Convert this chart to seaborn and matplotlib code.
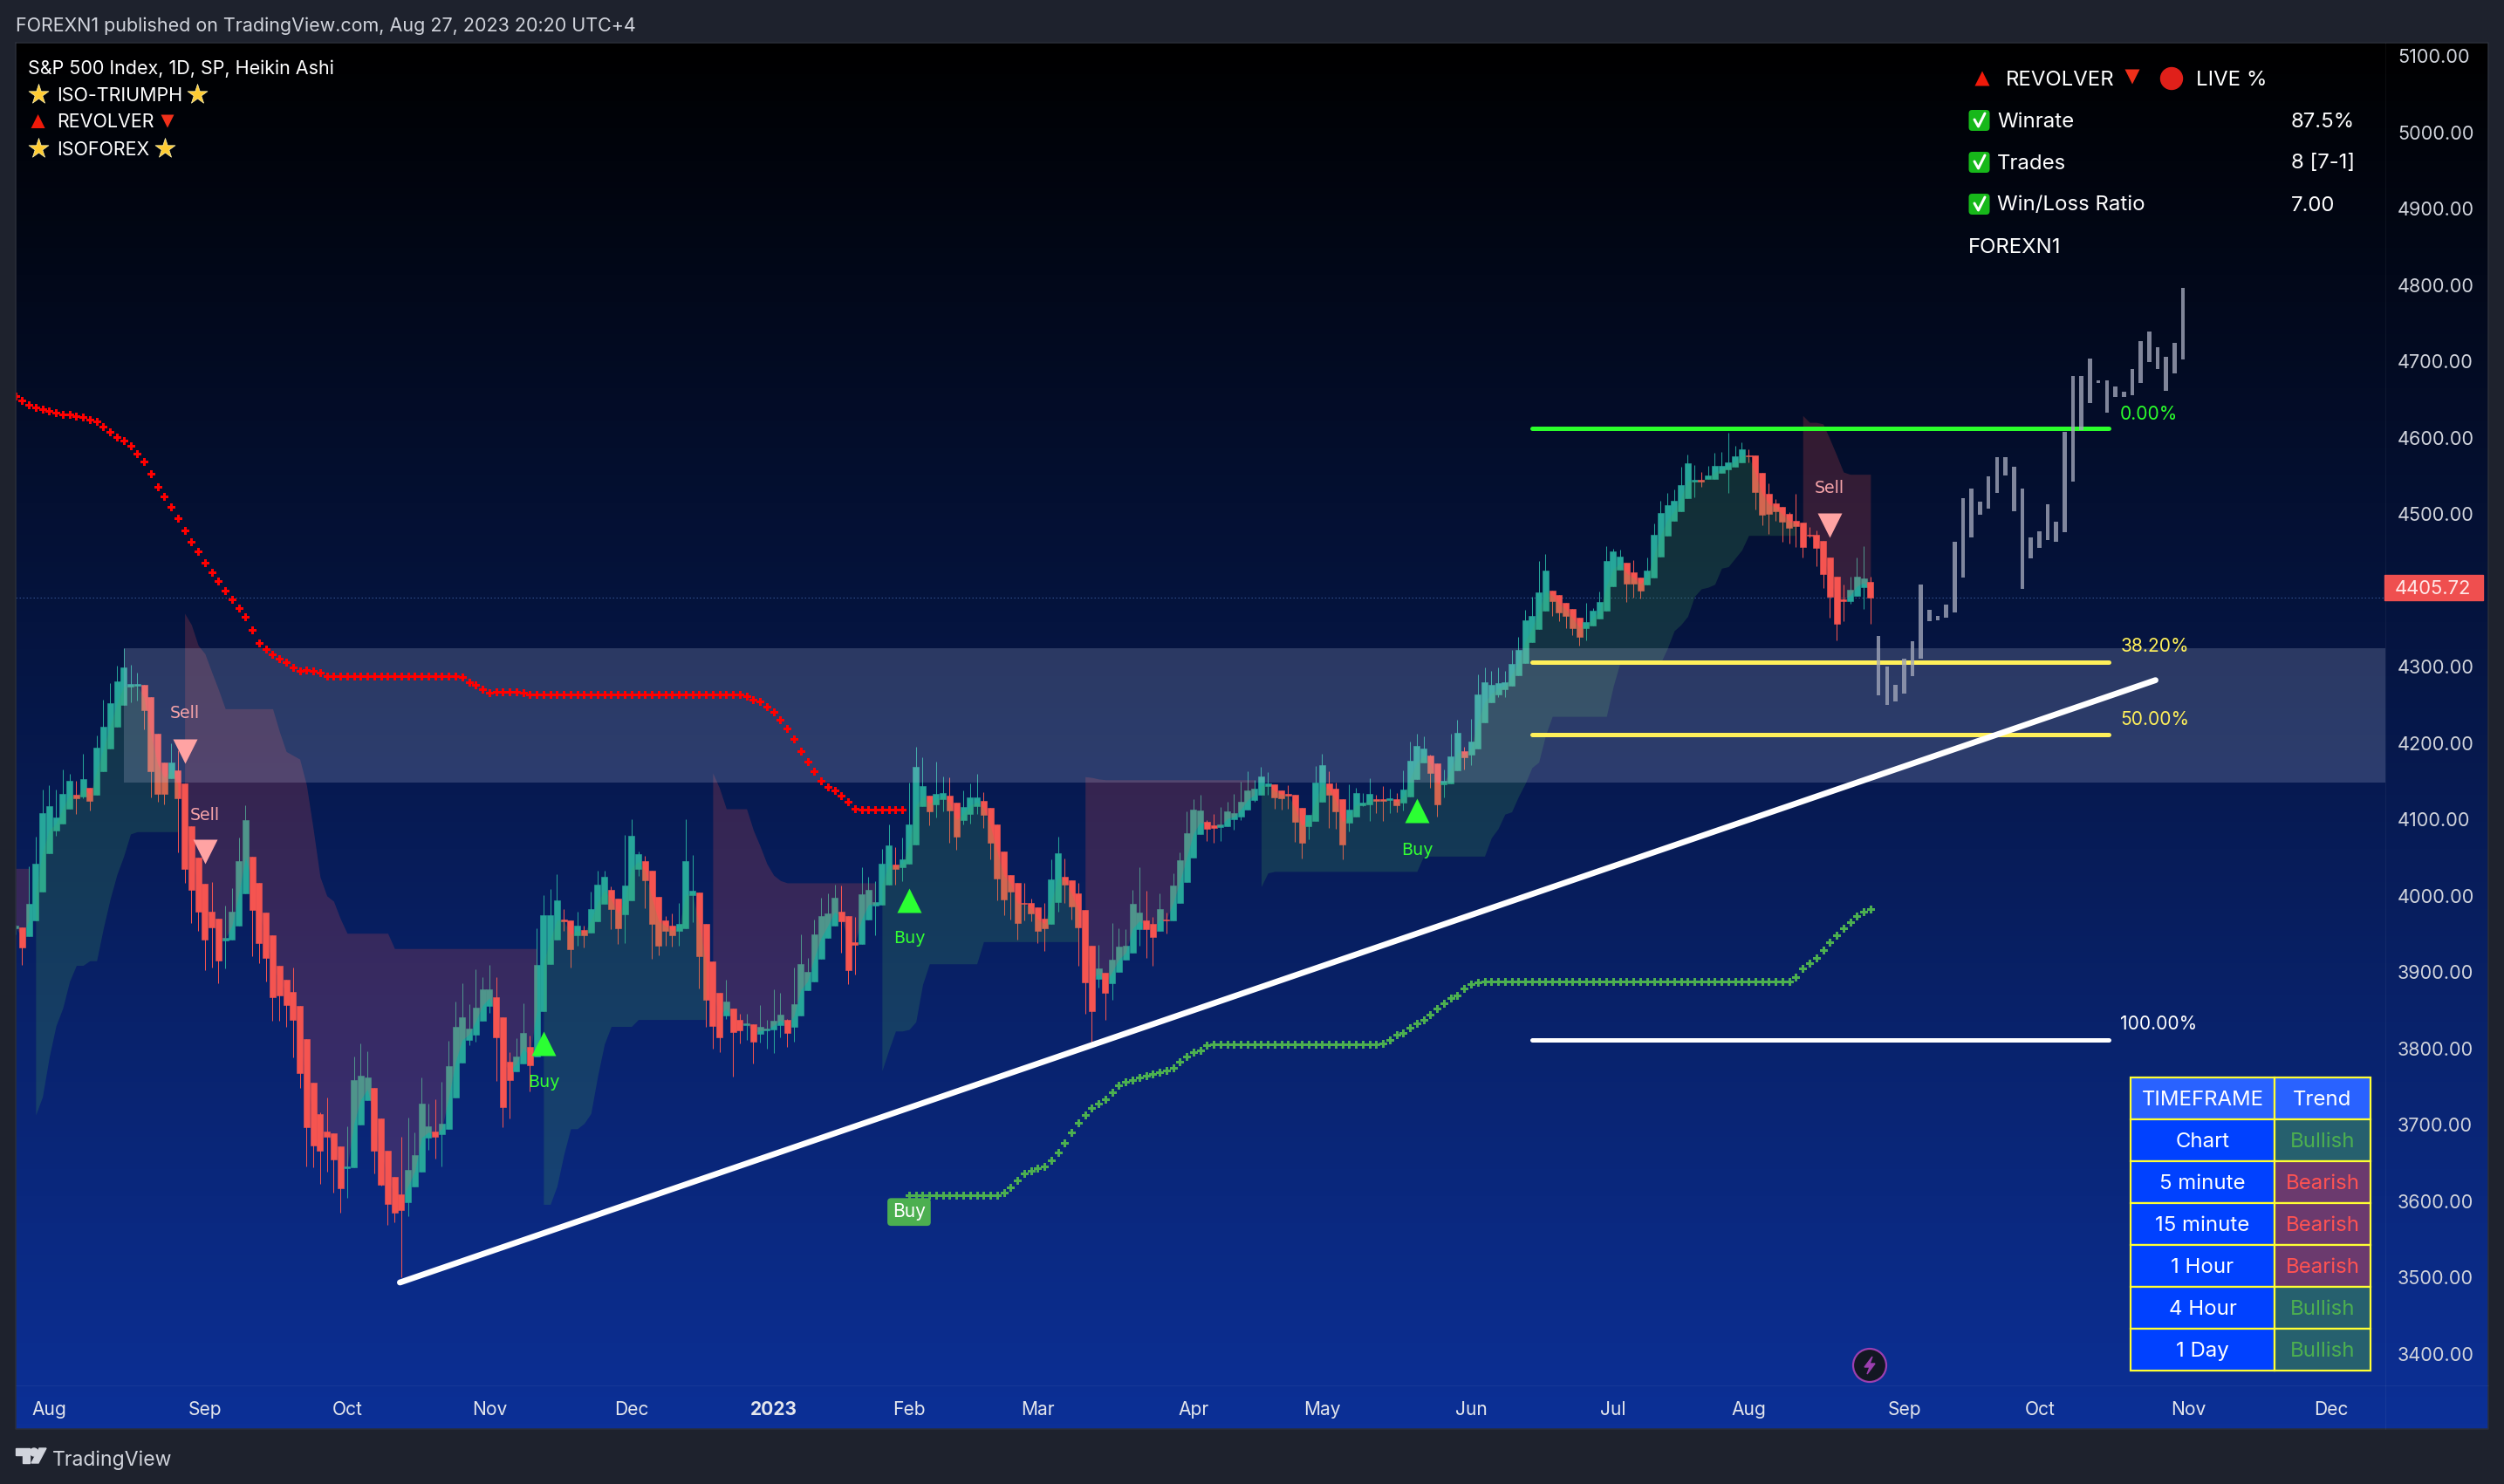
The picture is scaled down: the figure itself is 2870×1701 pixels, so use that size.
import numpy as np
import matplotlib
matplotlib.use("Agg")
import matplotlib.pyplot as plt
from matplotlib.colors import LinearSegmentedColormap
from matplotlib.patches import Rectangle, Circle, Polygon, FancyBboxPatch
import seaborn as sns

# heikin ashi candles, one entry per daily bar
ha_open = [
    3957,3959,3947,3968,4005,4056,4086,4095,4114,4132, 4130,4141,4132,4163,4193,4222,4250,4274,4275,4276,
    4260,4212,4175,4154,4164,4147,4091,4050,4016,3979, 3970,3942,3943,3961,4003,4051,4017,3978,3948,3908,
    3890,3874,3856,3813,3755,3714,3691,3689,3672,3643, 3645,3701,3732,3748,3708,3666,3632,3609,3599,3619,
    3639,3683,3691,3688,3695,3736,3782,3811,3818,3836, 3856,3867,3841,3783,3770,3780,3802,3790,3849,3911,
    3943,3969,3968,3948,3955,3952,3967,3990,4008,3996, 3976,3994,4035,4045,4033,3999,3968,3961,3954,3957,
    4001,4004,3963,3914,3873,3843,3852,3838,3831,3832, 3819,3824,3825,3831,3838,3828,3843,3876,3888,3917,
    3945,3961,3979,3973,3939,3937,3969,3987,3988,4015, 4041,4037,4042,4067,4117,4131,4120,4127,4131,4122,
    4099,4107,4117,4124,4115,4093,4058,4027,4017,3991, 3991,3985,3970,3963,3992,4025,4020,4003,3981,3935,
    3891,3899,3885,3900,3916,3925,3956,3968,3963,3954, 3969,3968,3991,4018,4050,4081,4097,4092,4090,4091,
    4100,4104,4113,4125,4132,4144,4146,4138,4133,4132, 4115,4091,4098,4123,4147,4140,4127,4096,4104,4119,
    4120,4127,4127,4125,4127,4122,4130,4153,4175,4184, 4173,4146,4147,4164,4189,4185,4193,4227,4253,4264,
    4271,4275,4289,4305,4332,4349,4373,4400,4394,4384, 4376,4364,4351,4354,4363,4373,4405,4427,4436,4424,
    4417,4408,4417,4444,4472,4491,4504,4521,4542,4545, 4546,4546,4554,4558,4562,4568,4577,4577,4554,4526,
    4514,4509,4500,4491,4489,4473,4473,4465,4443,4418, 4388,4386,4393,4404,4411,
]
ha_close = [
    3961,3932,3990,4042,4108,4117,4103,4134,4151,4128, 4153,4124,4194,4222,4252,4281,4299,4277,4277,4243,
    4163,4134,4134,4175,4128,4035,4008,3979,3943,3959, 3915,3945,3979,4046,4099,3981,3938,3919,3867,3870,
    3857,3838,3768,3697,3673,3666,3685,3655,3617,3646, 3759,3765,3762,3666,3622,3596,3585,3589,3641,3660,
    3728,3698,3684,3702,3777,3829,3841,3826,3854,3877, 3877,3815,3723,3759,3790,3821,3778,3909,3975,3975,
    3994,3967,3930,3961,3948,3983,4015,4025,3983,3957, 4013,4079,4055,4020,3963,3935,3954,3948,3963,4045,
    4007,3921,3864,3830,3815,3862,3822,3824,3833,3809, 3828,3826,3836,3844,3820,3858,3911,3900,3950,3973,
    3977,3997,3967,3903,3936,4002,4008,3992,4042,4066, 4035,4048,4093,4169,4144,4111,4133,4135,4112,4077,
    4116,4129,4129,4106,4069,4023,3995,4005,3964,3989, 3977,3954,3957,4021,4056,4015,3986,3959,3887,3849,
    3905,3873,3916,3934,3935,3989,3978,3956,3946,3983, 3968,4013,4047,4082,4113,4112,4088,4089,4093,4111,
    4108,4123,4138,4140,4156,4147,4129,4128,4131,4097, 4069,4106,4148,4171,4132,4111,4067,4113,4135,4122,
    4133,4124,4124,4128,4119,4139,4177,4196,4193,4161, 4120,4151,4183,4213,4181,4202,4264,4280,4276,4279,
    4280,4304,4322,4361,4367,4397,4426,4386,4371,4367, 4351,4339,4358,4373,4385,4438,4451,4444,4409,4409,
    4400,4426,4473,4501,4512,4517,4538,4566,4545,4542, 4550,4563,4563,4568,4576,4585,4576,4529,4499,4500,
    4504,4490,4482,4484,4457,4472,4456,4421,4392,4356, 4386,4401,4418,4416,4390,
]
ha_high = [
    3962,3959,4039,4078,4139,4145,4139,4166,4160,4151, 4186,4141,4210,4257,4279,4301,4324,4302,4292,4276,
    4260,4212,4175,4200,4191,4147,4091,4050,4016,4018, 3970,3987,4010,4076,4119,4051,4017,3978,3948,3908,
    3890,3906,3856,3813,3755,3716,3736,3689,3672,3698, 3790,3807,3797,3748,3708,3666,3632,3684,3710,3690,
    3762,3728,3734,3757,3810,3862,3885,3858,3904,3894, 3910,3894,3841,3795,3814,3859,3817,3957,4001,4009,
    4028,3983,3968,3979,3961,4006,4033,4033,4012,3996, 4080,4100,4058,4052,4033,3999,3973,3977,3991,4100,
    4053,4004,3963,3914,3873,3890,3852,3846,3846,3832, 3857,3838,3877,3873,3839,3906,3950,3919,3969,3997,
    4003,4015,4014,3973,3972,4038,4025,4019,4061,4093, 4064,4076,4148,4195,4181,4131,4176,4156,4155,4122,
    4138,4147,4160,4136,4115,4093,4058,4027,4017,4017, 3996,3985,3991,4048,4077,4049,4020,4017,3981,3935,
    3936,3899,3964,3958,3956,4008,4038,4007,3972,4003, 3978,4029,4057,4111,4127,4132,4099,4107,4116,4123,
    4133,4149,4163,4152,4169,4162,4146,4138,4145,4132, 4115,4106,4170,4186,4163,4148,4127,4146,4141,4135,
    4154,4132,4144,4140,4135,4164,4202,4212,4209,4185, 4173,4165,4212,4231,4195,4232,4290,4299,4295,4299,
    4294,4322,4339,4375,4392,4438,4448,4400,4394,4384, 4376,4364,4384,4377,4398,4458,4455,4453,4436,4440,
    4417,4443,4488,4517,4528,4532,4562,4578,4564,4555, 4563,4580,4581,4606,4589,4594,4585,4577,4554,4540,
    4520,4509,4502,4526,4489,4483,4478,4465,4443,4418, 4408,4418,4443,4458,4418,
]
ha_low = [
    3950,3910,3947,3968,4005,4056,4079,4095,4114,4107, 4128,4112,4132,4163,4193,4222,4250,4253,4256,4218,
    4129,4123,4120,4154,4057,4017,3964,3954,3903,3906, 3885,3905,3943,3961,4003,3921,3912,3888,3837,3837,
    3828,3789,3748,3646,3645,3623,3639,3611,3585,3605, 3645,3701,3732,3637,3621,3569,3573,3501,3580,3619,
    3639,3667,3656,3646,3695,3736,3782,3804,3809,3836, 3847,3758,3697,3709,3770,3780,3744,3790,3849,3911,
    3943,3954,3906,3935,3932,3952,3967,3990,3956,3937, 3938,3994,4026,3984,3918,3922,3935,3933,3935,3957,
    3966,3879,3828,3800,3795,3839,3763,3807,3811,3780, 3808,3800,3794,3815,3802,3809,3843,3876,3888,3917,
    3945,3961,3926,3884,3897,3937,3969,3948,3988,4015, 4015,4019,4042,4067,4117,4092,4103,4111,4070,4060,
    4093,4095,4107,4089,4048,3994,3975,3969,3943,3968, 3967,3938,3928,3963,3979,3991,3969,3908,3846,3808,
    3880,3838,3864,3900,3916,3925,3935,3919,3908,3954, 3951,3968,3991,4018,4050,4081,4072,4069,4072,4091,
    4087,4099,4113,4123,4132,4132,4114,4113,4114,4071, 4049,4074,4098,4123,4089,4088,4048,4084,4104,4117,
    4098,4108,4098,4108,4109,4112,4130,4153,4175,4141, 4104,4129,4147,4164,4165,4171,4193,4227,4253,4260,
    4260,4275,4289,4305,4332,4349,4373,4367,4360,4351, 4341,4328,4335,4354,4363,4373,4405,4427,4385,4391,
    4389,4408,4417,4444,4472,4491,4504,4521,4522,4536, 4546,4546,4554,4528,4562,4568,4568,4506,4485,4474,
    4491,4464,4461,4457,4443,4469,4432,4403,4364,4335, 4360,4383,4393,4376,4356,
]

# revolver dots, red from the first bar, green from bar 132
red_dots = [
    4654,4649,4643,4639,4637,4635,4633,4630,4630,4628,4627,4624,4621,4615,4608,4601,4596,4589,4579,4569,4553,
    4536,4523,4509,4494,4478,4464,4451,4436,4424,4412,
    4400,4388,4377,4365,4348,4331,4323,4316,4310,4306,4299,4295,4296,4295,4292,
    4288,4288,4288,4288,4288,4288,4288,4288,4288,4288,4288,4288,4288,4288,4288,4288,4288,4288,4288,4288,
    4286,4280,4276,4270,4266,4267,4267,4267,4267,4266,
    4264,4264,4264,4264,4264,4264,4264,4264,4264,4264,4264,4264,4264,4264,4264,4264,
    4264,4264,4264,4264,4264,4264,4264,4264,4264,4264,4264,4264,4264,4264,4264,4264,
    4261,
    4257,4255,4248,4241,4231,4219,4205,4190,4176,4163,4151,4143,4138,4131,4123,4114,
    4113,4113,4113,4113,4113,4113,4113,
]
green_dots = [
    3608,3608,3608,3608,3608,3608,3608,3608,3608,3608,3608,3608,3608,3608,
    3611,3618,3627,3636,3640,3643,3646,3654,3664,3676,3690,3703,3713,3722,3728,3734,3743,3752,3756,
    3759,3762,3765,3767,3769,3771,3775,3783,3790,3795,3798,3804,
    3806,3806,3806,3806,3806,3806,3806,3806,3806,3806,3806,3806,3806,3806,3806,3806,3806,3806,3806,3806,3806,3806,3806,3806,3806,
    3807,3811,3818,3821,3827,3833,3838,3845,3853,3859,3866,3870,3879,3884,3887,
    3888,3888,3888,3888,3888,3888,3888,3888,3888,3888,3888,3888,3888,3888,3888,3888,3888,3888,3888,3888,3888,3888,3888,
    3888,3888,3888,3888,3888,3888,3888,3888,3888,3888,3888,3888,3888,3888,3888,3888,3888,3888,3888,3888,3888,3888,3888,
    3894,3905,3912,3919,3929,3939,3948,3958,3966,3973,3979,3983,
]
green_dots_start = 132

# trailing stop edge of the clouds: (first bar, stop levels)
pink_a = (0, [4036,4036,4036])
teal_a = (3, [3713,3737,3789,3830,3853,3888,3909,3909,3915,3915,3958,3996,4028,4052,4081,
              4084,4084,4084,4084,4084,4084,4084])
pink_b = (25, [4370,4355,4328,4317,4293,4270,4245,4245,4245,4245,4245,4245,4245,4245,4215,4189,4184,4179,
               4145,4087,4025,4000,3993,3970,3951,3951,3951,3951,3951,3951,3951,
               3931,3931,3931,3931,3931,3931,3931,3931,3931,3931,3931,3931,3931,3931,3931,3931,3931,3931,3931,3931,3931,3931])
teal_b = (78, [3596,3596,3620,3661,3695,3695,3702,3715,3764,3806,3829,3829,3829,3829,
               3838,3838,3838,3838,3838,3838,3838,3838,3838,3838,3838])
pink_c = (103, [4161,4141,4114,4114,4114,4114,4086,4065,4042,4027,4020,
                4017,4017,4017,4017,4017,4017,4017,4017,4017,4017,4017,4017,4017,4017])
teal_c = (128, [3771,3798,3823,3823,3825,3835,3884,3911,3911,3911,3911,3911,3911,3911,3911,
                3940,3940,3940,3940,3940,3940,3940,3940,3940,3940,3940,3940,3940,3940,3940])
pink_d = (158, [4156,4155,4153,4152,4152,4152,4152,4152,4152,4152,4152,4152,4152,4152,4152,4152,
                4152,4152,4152,4152,4152,4152,4152,4152,4152,4152])
teal_d = (184, [4012,4030,4032,4032,4032,4032,4032,4032,4032,4032,4032,4032,4032,4032,4032,4032,
                4032,4032,4032,4032,4032,4032,4032,4032,
                4052,4052,4052,4052,4052,4052,4052,4052,4052,4052,
                4076,4088,4107,4110,4130,4147,4168,4175,4210,
                4235,4235,4235,4235,4235,4235,4235,4235,4235,4274,
                4305,4305,4305,4305,4305,4305,4305,
                4324,4347,4355,4366,4392,4402,4404,4408,4429,4431,4442,4453,
                4472,4472,4472,4472,4472,4472,4472,4472])
pink_e = (264, [4629,4620,4620,4618,4598,4577,4555,4552,4552,4552,4552])

# projected grey bars after the last candle
ghost_top = [4340,4300,4276,4311,4333,4408,4375,4367,4381,4464,4521,4533,4516,4549,4574,4574,4562,4533,4469,
             4477,4513,4490,4608,4681,4681,4704,4675,4675,4667,4660,4690,4726,4739,4718,4706,4724,4796]
ghost_bot = [4263,4250,4255,4265,4288,4310,4360,4361,4364,4371,4417,4469,4499,4507,4528,4551,4504,4402,4442,
             4456,4466,4464,4476,4542,4610,4645,4672,4633,4653,4653,4656,4672,4699,4690,4661,4684,4702]

# signals: bar, marker level, text level
sell_bar = [25, 28, 268]
sell_mark = [4189, 4058, 4485]
sell_text = [4239, 4106, 4534]
buy_bar = [78, 132, 207]
buy_mark = [3807, 3994, 4112]
buy_text = [3756, 3944, 4060]

zone_low, zone_high = 4148, 4324
zone_start = 16
last_price = 4405.72
ha_last_close = 4391
fib_levels = [4611.8, 4305.6, 4210.8, 3811]
fib_labels = ["0.00%", "38.20%", "50.00%", "100.00%"]
fib_label_y = [4630, 4326, 4231, 3832]
fib_colors = ["#2bff2b", "#fff05a", "#fff05a", "#ffffff"]
fib_start, fib_end = 224, 309.2
trend_x = [56.8, 316.1]
trend_y = [3493.7, 4282.4]

price_ticks = [5100,5000,4900,4800,4700,4600,4500,4400,4300,4200,4100,4000,3900,3800,3700,3600,3500,3400]
month_ticks = [5,28,49,70,91,112,132,151,174,193,215,236,256,279,299,321,342]
month_labels = ["Aug","Sep","Oct","Nov","Dec","2023","Feb","Mar","Apr","May","Jun","Jul","Aug","Sep","Oct","Nov","Dec"]

tf_names = ["Chart","5 minute","15 minute","1 Hour","4 Hour","1 Day"]
tf_trend = ["Bullish","Bearish","Bearish","Bearish","Bullish","Bullish"]
stat_names = ["Winrate","Trades","Win/Loss Ratio"]
stat_values = ["87.5%","8 [7-1]","7.00"]

W, H = 2870, 1701
PT = 0.72  # px to pt at dpi 100
UP, DOWN = "#26a69a", "#f55450"
TXT = "#d1d4dc"

sns.set_theme(style="dark", rc={"axes.grid": False})
plt.rcParams["font.family"] = ["Inter", "DejaVu Sans"]

fig = plt.figure(figsize=(W / 100, H / 100), dpi=100, facecolor="#1e222d")


def box(x0, y0, x1, y1):
    return [x0 / W, 1 - y1 / H, (x1 - x0) / W, (y1 - y0) / H]


# background gradient over the whole frame
bg = fig.add_axes(box(18, 49, 2852, 1638))
cmap = LinearSegmentedColormap.from_list("tv", ["#000000", "#0c3097"])
bg.imshow(np.linspace(0, 1, 512).reshape(-1, 1), aspect="auto", cmap=cmap)
bg.axis("off")

ax = fig.add_axes(box(18, 49, 2734, 1588))
ax.patch.set_alpha(0)
ax.set_xlim(0.05, 350.05)
ax.set_ylim(3358.9, 5117.1)
sns.despine(ax=ax, left=True, bottom=True, right=True, top=True)

# candles
bars = np.arange(len(ha_open))
o, c, hi, lo = map(np.array, (ha_open, ha_close, ha_high, ha_low))
colors = np.where(c >= o, UP, DOWN)
ax.vlines(bars, lo, hi, colors=colors, linewidth=1 * PT, zorder=2)
ax.bar(bars, np.abs(c - o), bottom=np.minimum(o, c), width=0.9, color=colors,
       edgecolor=colors, linewidth=0.4, zorder=3)

# clouds sit on top of the candles
mid = (o + c) / 2
for start, stops in [teal_a, teal_b, teal_c, teal_d]:
    idx = np.arange(start, start + len(stops))
    ax.fill_between(idx, stops, mid[idx], color="#4caf50", alpha=0.2, linewidth=0, zorder=4)
for start, stops in [pink_a, pink_b, pink_c, pink_d, pink_e]:
    idx = np.arange(start, start + len(stops))
    ax.fill_between(idx, stops, mid[idx], color="#f55450", alpha=0.2, linewidth=0, zorder=4)

# supply zone
ax.fill_between([zone_start, 350.05], zone_low, zone_high, color="#c8cdeb", alpha=0.2, linewidth=0, zorder=4.5)

# hairline at the heikin ashi close
ax.axhline(ha_last_close, color="#34548f", linewidth=1 * PT, linestyle=(0, (1.5, 2.5)), zorder=1)

# fib levels and trend line
for lvl, col, lab, ly in zip(fib_levels, fib_colors, fib_labels, fib_label_y):
    sns.lineplot(x=[fib_start, fib_end], y=[lvl, lvl], color=col, linewidth=5 * PT,
                 solid_capstyle="round", ax=ax, zorder=5, errorbar=None)
    ax.text(310.9, ly, lab, color=col, fontsize=21 * PT, va="center", ha="left", zorder=8)
sns.lineplot(x=trend_x, y=trend_y, color="white", linewidth=6.8 * PT, solid_capstyle="round",
             ax=ax, zorder=5, errorbar=None)

# dots
dot_s = (9 * PT) ** 2
sns.scatterplot(x=np.arange(len(red_dots)), y=red_dots, marker="P", s=dot_s, color="#ff0000",
                linewidth=0, ax=ax, zorder=6)
sns.scatterplot(x=green_dots_start + np.arange(len(green_dots)), y=green_dots, marker="P", s=dot_s,
                color="#4caf50", linewidth=0, ax=ax, zorder=6)

# grey projection
ghost_x = 275.2 + 1.249 * np.arange(len(ghost_top))
ax.bar(ghost_x, np.array(ghost_top) - np.array(ghost_bot), bottom=ghost_bot, width=0.6,
       color="#a0a5b8", alpha=0.8, linewidth=0, zorder=6)

# buy and sell marks
tri_s = (28 * PT) ** 2
sns.scatterplot(x=sell_bar, y=sell_mark, marker="v", s=tri_s, color="#ffa3a3", linewidth=0, ax=ax, zorder=7)
sns.scatterplot(x=buy_bar, y=buy_mark, marker="^", s=tri_s, color="#2bff33", linewidth=0, ax=ax, zorder=7)
for b, y in zip(sell_bar, sell_text):
    ax.text(b, y, "Sell", color="#f5a3a8", family="DejaVu Sans", fontsize=19 * PT, ha="center", va="center", zorder=8)
for b, y in zip(buy_bar, buy_text):
    ax.text(b, y, "Buy", color="#33ff33", family="DejaVu Sans", fontsize=19 * PT, ha="center", va="center", zorder=8)
ax.text(green_dots_start, 3586, "Buy", color="white", fontsize=21 * PT, ha="center", va="center", zorder=8,
        bbox=dict(boxstyle="round,pad=0.28,rounding_size=0.2", fc="#4caf50", ec="none"))

# axes labels
ax.yaxis.tick_right()
ax.set_yticks(price_ticks)
ax.set_yticklabels([f"{p:.2f}" for p in price_ticks])
ax.set_xticks(month_ticks)
ax.set_xticklabels(month_labels)
ax.tick_params(axis="y", length=0, pad=14 * PT, labelsize=21.6 * PT, labelcolor=TXT)
ax.tick_params(axis="x", length=0, pad=18 * PT, labelsize=21 * PT, labelcolor="#e4e6ec")
for lab in ax.get_xticklabels():
    if lab.get_text() == "2023":
        lab.set_fontweight("bold")
ax.set_xlabel("")
ax.set_ylabel("")

# overlay in picture pixels for panels, table, header and footer
ov = fig.add_axes([0, 0, 1, 1], zorder=10)
ov.set_xlim(0, W)
ov.set_ylim(H, 0)
ov.axis("off")
ov.patch.set_alpha(0)


def label(x, y, s, size=21.5, color="white", **kw):
    kw.setdefault("ha", "left")
    ov.text(x, y + 1.5, s, color=color, fontsize=size * PT, va="center", **kw)


def mark(x, y, m, size, col, edge="none"):
    ov.scatter([x], [y], marker=m, s=(size * PT) ** 2, color=col, edgecolors=edge, linewidths=0.5)


# frame edges
ov.plot([18, 18, 2852, 2852, 18], [49, 1638, 1638, 49, 49], color="#2a2e39", lw=1.5 * PT)
ov.plot([18, 2852], [1588, 1588], color="white", alpha=0.05, lw=1 * PT)
ov.plot([2734, 2734], [49, 1638], color="white", alpha=0.05, lw=1 * PT)

label(18, 28, "FOREXN1 published on TradingView.com, Aug 27, 2023 20:20 UTC+4", size=21.5, color=TXT)

# legend top left
label(32, 77, "S&P 500 Index, 1D, SP, Heikin Ashi")
mark(43.6, 108, "*", 24, "#ffcc33", "#fff3b0")
label(65.4, 108, "ISO-TRIUMPH")
mark(225.6, 108, "*", 24, "#ffcc33", "#fff3b0")
mark(43.6, 139, "^", 16, "#f01a0a")
label(65.4, 139, "REVOLVER")
mark(192, 139, "v", 15, "#f0301a")
mark(43.6, 170, "*", 24, "#ffcc33", "#fff3b0")
label(65.4, 170, "ISOFOREX")
mark(189.4, 170, "*", 24, "#ffcc33", "#fff3b0")

# stats panel
mark(2272, 90, "^", 17, "#f01a0a")
label(2299, 90, "REVOLVER", size=24)
mark(2444, 88, "v", 17, "#f0301a")
ov.add_patch(Circle((2489, 90), 12.5, color="#e0201a"))
label(2517, 90, "LIVE %", size=24)
for i, (name, val) in enumerate(zip(stat_names, stat_values)):
    y = 138 + 48 * i
    ov.add_patch(FancyBboxPatch((2258.5, y - 10), 20, 20, boxstyle="round,pad=2,rounding_size=4",
                                fc="#17b81a", ec="none"))
    ov.plot([2263, 2267.5, 2275], [y - 1, y + 7, y - 8], color="white", lw=3 * PT, solid_capstyle="round")
    label(2289, y, name, size=24)
    label(2626, y, val, size=24)
label(2256, 282, "FOREXN1", size=24)

# last price tag
ov.add_patch(Rectangle((2733, 659), 113, 29, color="#ef4f4f"))
label(2789, 673, f"{last_price:.2f}", size=22, ha="center", color="#ffe9e9")

# timeframe table
tx0, tx1, tx2 = 2442, 2607, 2717
ty0, rh = 1235, 48
ov.add_patch(Rectangle((tx0, ty0), tx1 - tx0, rh, fc="#2962ff", ec="#ffff33", lw=2.2 * PT))
ov.add_patch(Rectangle((tx1, ty0), tx2 - tx1, rh, fc="#2962ff", ec="#ffff33", lw=2.2 * PT))
label((tx0 + tx1) / 2, ty0 + rh / 2, "TIMEFRAME", size=24, ha="center")
label((tx1 + tx2) / 2, ty0 + rh / 2, "Trend", size=24, ha="center")
for i, (name, trend) in enumerate(zip(tf_names, tf_trend)):
    y = ty0 + rh * (i + 1)
    bull = trend == "Bullish"
    ov.add_patch(Rectangle((tx0, y), tx1 - tx0, rh, fc="#0041ff", ec="#ffff33", lw=2.2 * PT))
    ov.add_patch(Rectangle((tx1, y), tx2 - tx1, rh, fc="#26606e" if bull else "#6b3a6e", ec="#ffff33", lw=2.2 * PT))
    label((tx0 + tx1) / 2, y + rh / 2, name, size=24, ha="center")
    label((tx1 + tx2) / 2, y + rh / 2, trend, size=24, ha="center", color="#4caf50" if bull else "#ff5252")

# earnings style icon
ov.add_patch(Circle((2143, 1565), 19, fc="#131722", ec="#9c3fb0", lw=2.2 * PT))
ov.add_patch(Polygon([(2146, 1555), (2137, 1567), (2143, 1567), (2140, 1575), (2149, 1563), (2143, 1563)],
                     color="#9c3fb0"))

# tradingview footer
ov.add_patch(Polygon([(18, 1660), (34, 1660), (34, 1677), (26, 1677), (26, 1668), (18, 1668)], color=TXT))
ov.add_patch(Circle((39, 1664.5), 4.5, color=TXT))
ov.add_patch(Polygon([(45, 1660), (53, 1660), (44, 1677), (36, 1677)], color=TXT))
label(60, 1672, "TradingView", size=23, color=TXT)

fig.savefig("out.png", dpi=100, facecolor=fig.get_facecolor())
